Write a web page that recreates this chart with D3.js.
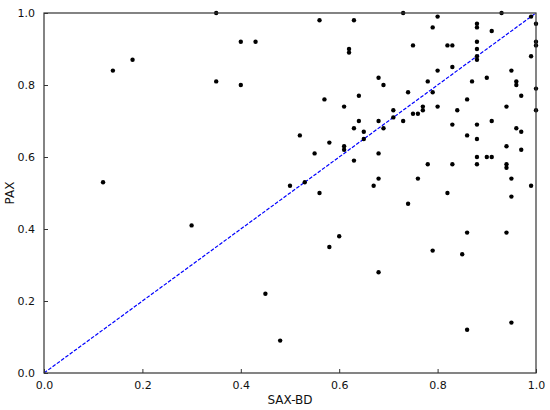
<!DOCTYPE html>
<html>
<head>
<meta charset="utf-8">
<script src="https://cdn.jsdelivr.net/npm/d3@7"></script>
<style>
    body { margin: 0; background: #fff; }
    svg { display: block; font-family: "DejaVu Sans", sans-serif; }
</style>
</head>
<body>
<svg id="chart" width="550" height="410"></svg>
<script>
// values
var saxbd = [0.18, 0.14, 0.35, 0.56, 0.63, 0.40, 0.43, 0.62, 0.62, 0.35, 0.40, 0.64, 0.57, 0.61, 0.64, 0.63, 0.65,
    0.73, 0.93, 0.80, 0.99, 1.00, 0.88, 0.88, 0.79, 0.91, 1.00, 1.00, 0.88, 0.75, 0.82, 0.83, 0.88, 0.99, 0.88, 0.88,
    0.83, 0.80, 0.95, 0.68, 0.90, 0.69, 0.78, 0.87, 0.96, 0.96, 1.00, 0.79, 0.74, 0.97, 0.86, 0.77, 0.77, 0.80, 0.94,
    0.71, 1.00, 0.84, 0.71, 0.75, 0.76, 0.68, 0.73, 0.69, 0.83, 0.88, 0.91, 0.96, 0.97, 0.86, 0.52, 0.58, 0.61, 0.61,
    0.65, 0.55, 0.63, 0.50, 0.53, 0.56, 0.60, 0.58, 0.12, 0.30, 0.88, 0.94, 0.97, 0.68, 0.88, 0.90, 0.91, 0.78, 0.83,
    0.88, 0.94, 0.94, 0.68, 0.76, 0.95, 0.67, 0.99, 0.82, 0.95, 0.74, 0.86, 0.94, 0.79, 0.85, 0.45, 0.48, 0.68, 0.86, 0.95]
var pax = [0.87, 0.84, 1.00, 0.98, 0.98, 0.92, 0.92, 0.90, 0.89, 0.81, 0.80, 0.77, 0.76, 0.74, 0.70, 0.68, 0.67,
    1.00, 1.00, 0.99, 0.99, 0.97, 0.97, 0.96, 0.96, 0.95, 0.92, 0.91, 0.92, 0.91, 0.91, 0.91, 0.90, 0.88, 0.88, 0.87,
    0.85, 0.84, 0.84, 0.82, 0.82, 0.80, 0.81, 0.81, 0.81, 0.80, 0.79, 0.78, 0.78, 0.77, 0.76, 0.74, 0.73, 0.74, 0.74,
    0.73, 0.73, 0.73, 0.71, 0.72, 0.72, 0.70, 0.70, 0.68, 0.69, 0.69, 0.70, 0.68, 0.67, 0.66, 0.66, 0.64, 0.63, 0.62,
    0.65, 0.61, 0.59, 0.52, 0.53, 0.50, 0.38, 0.35, 0.53, 0.41, 0.65, 0.63, 0.62, 0.61, 0.60, 0.60, 0.60, 0.58, 0.58,
    0.58, 0.58, 0.57, 0.54, 0.54, 0.54, 0.52, 0.52, 0.50, 0.49, 0.47, 0.39, 0.39, 0.34, 0.33, 0.22, 0.09, 0.28, 0.12, 0.14]
var ticks = [0, 0.2, 0.4, 0.6, 0.8, 1.0]
var diag = [0, 1]

var svg = d3.select('#chart')
var margin = { left: 44, right: 14, top: 13, bottom: 37 }
var W = 550 - margin.left - margin.right
var H = 410 - margin.top - margin.bottom

var x = d3.scaleLinear().domain([0, 1]).range([0, W])
var y = d3.scaleLinear().domain([0, 1]).range([H, 0])

var g = svg.append('g').attr('transform', `translate(${margin.left},${margin.top})`)

// y = x reference line
g.append('line')
    .attr('x1', x(diag[0])).attr('y1', y(diag[0]))
    .attr('x2', x(diag[1])).attr('y2', y(diag[1]))
    .attr('stroke', '#0000ff')
    .attr('stroke-width', 1.2)
    .attr('stroke-dasharray', '3.7,1.6')

g.selectAll('circle')
    .data(saxbd.map((v, i) => [v, pax[i]]))
    .join('circle')
    .attr('cx', d => x(d[0]))
    .attr('cy', d => y(d[1]))
    .attr('r', 2.2)
    .attr('fill', '#000')

// frame
g.append('rect')
    .attr('width', W).attr('height', H)
    .attr('fill', 'none')
    .attr('stroke', '#333')
    .attr('stroke-width', 1.2)

// axes, ticks pointing inside
var xAxis = g.append('g').attr('transform', `translate(0,${H})`)
    .call(d3.axisBottom(x).tickValues(ticks).tickFormat(d3.format('.1f')).tickSizeInner(-4).tickSizeOuter(0).tickPadding(8))
var yAxis = g.append('g')
    .call(d3.axisLeft(y).tickValues(ticks).tickFormat(d3.format('.1f')).tickSizeInner(-4).tickSizeOuter(0).tickPadding(9))
for (let a of [xAxis, yAxis]) {
    a.select('.domain').remove()
    a.selectAll('line').attr('stroke', '#333')
    a.selectAll('text').attr('font-size', 11).attr('fill', '#111').attr('font-family', 'DejaVu Sans')
}

svg.append('text')
    .attr('x', margin.left + W / 2)
    .attr('y', 404)
    .attr('text-anchor', 'middle')
    .attr('font-size', 12)
    .attr('fill', '#111')
    .text('SAX-BD')
svg.append('text')
    .attr('transform', `translate(14,${margin.top + H / 2}) rotate(-90)`)
    .attr('text-anchor', 'middle')
    .attr('font-size', 12)
    .attr('fill', '#111')
    .text('PAX')
</script>
</body>
</html>
